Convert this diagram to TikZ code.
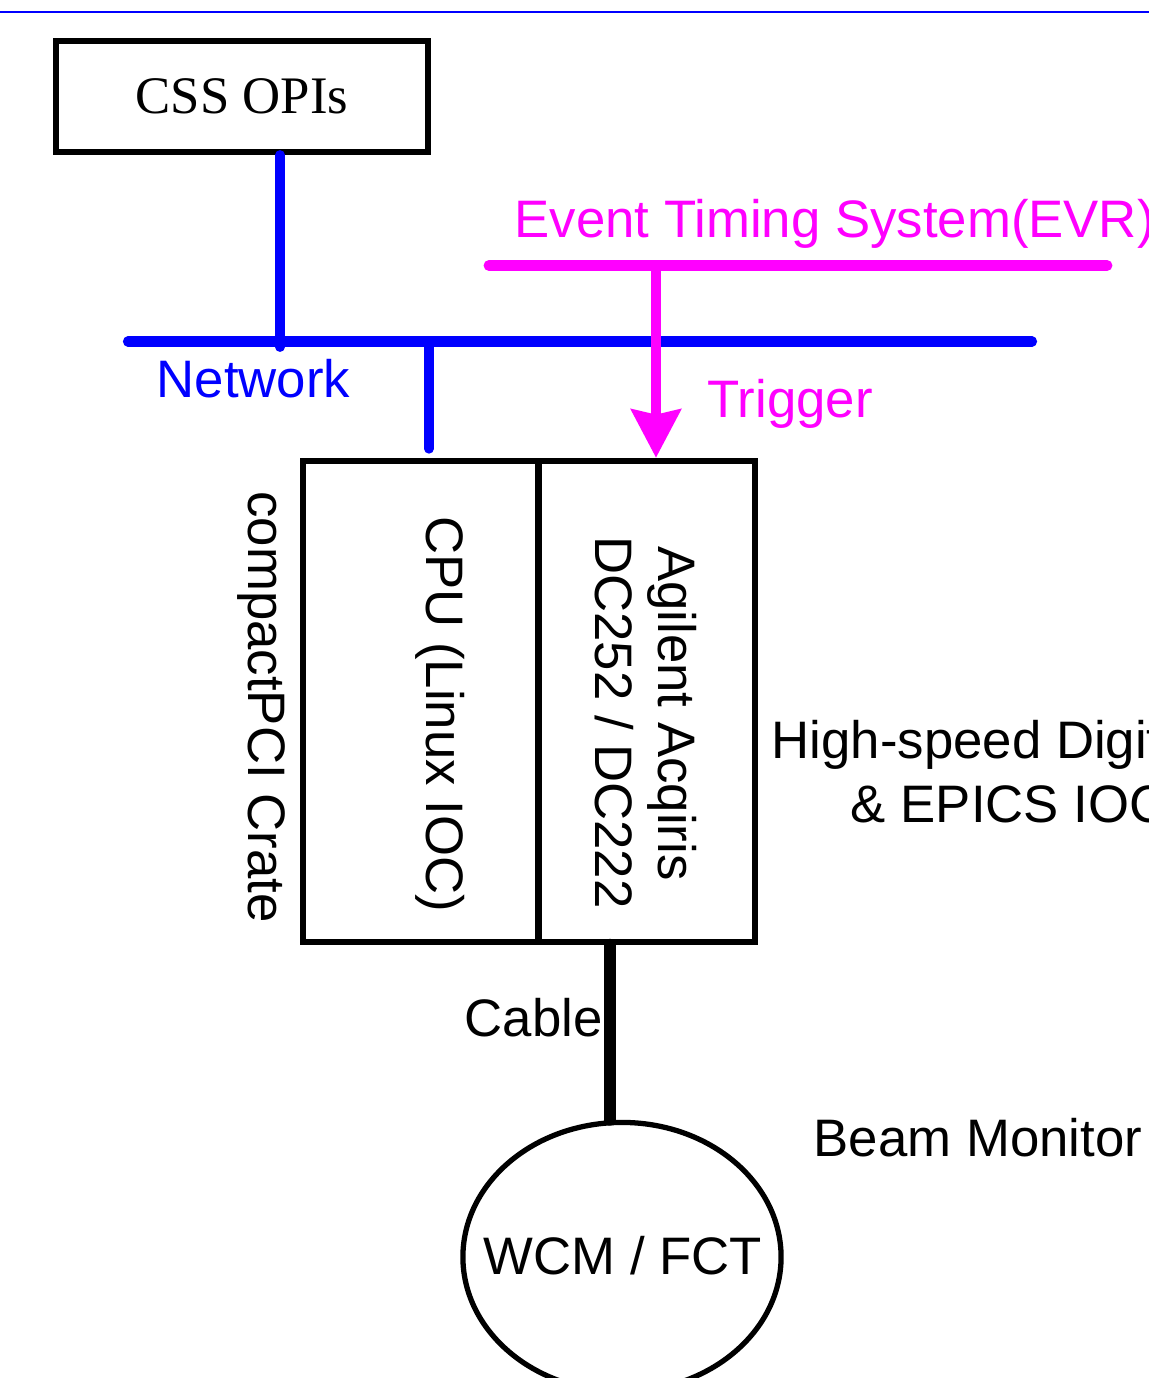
\documentclass[tikz,border=0pt]{standalone}
\usepackage{fontspec}
\setmainfont{Liberation Serif}
\setsansfont{Liberation Sans}
\usetikzlibrary{arrows.meta,positioning,calc,shapes.geometric}
\definecolor{evrpink}{RGB}{255,0,255}
\definecolor{netblue}{RGB}{0,0,255}

\begin{document}
\begin{tikzpicture}[x=0.01cm, y=-0.01cm,
    netline/.style={netblue, line width=2.9pt, line cap=round},
    evrline/.style={evrpink, line width=3.1pt, line cap=round},
    boxline/.style={draw, line width=1.7pt, inner sep=0pt},
    lbl/.style={font=\sffamily\fontsize{15}{18.2}\selectfont, inner sep=0pt}]

    % Page frame
    \useasboundingbox (0,0) rectangle (1149,1378);
    \clip (0,0) rectangle (1149,1378);

    % Rule at the top
    \draw[netblue, line width=0.6pt] (0,12) -- (1149,12);

    % Operator interfaces
    \node[boxline, font=\fontsize{15}{18}\selectfont, minimum width=3.72cm, minimum height=1.11cm] (css) at (242,96.5) {CSS OPIs};

    % compactPCI crate with its two boards
    \node[boxline, minimum width=2.355cm, minimum height=4.805cm] (cpubox) at (420.75,701.25) {};
    \node[boxline, minimum width=2.165cm, minimum height=4.805cm] (adcbox) at (646.75,701.25) {};

    % Network bus
    \coordinate (netW) at (128,341.5);
    \coordinate (netE) at (1032,341.5);
    \draw[netline] (netW) -- (netE);
    \node[lbl, netblue, anchor=base west] (netlabel) at (156,397) {Network};

    % Taps on the network
    \coordinate (tapcss) at (280,347);
    \coordinate (tapcpu) at (429,341.5);
    \draw[netline, line width=2.8pt] (css.south -| tapcss) -- (tapcss);
    \draw[netline, line width=2.8pt, shorten >=2.6pt] (tapcpu) -- (tapcpu |- cpubox.north);

    % Timing bus and trigger
    \coordinate (evrW) at (489,265.5);
    \coordinate (evrE) at (1107,265.5);
    \draw[evrline] (evrW) -- (evrE);
    \node[lbl, evrpink, anchor=base west] (evrlabel) at (514,237) {Event Timing System(EVR)};
    \coordinate (evrtap) at (656,265.5);
    \draw[evrline, line cap=butt, -{Stealth[length=13.7pt, width=13.9pt, inset=1.4pt]}] (evrtap) -- (evrtap |- adcbox.north);
    \node[lbl, evrpink, anchor=base west] (triglabel) at (707,417) {Trigger};

    % Crate labels
    \node[lbl, rotate=-90, anchor=base] (cratelabel) at (248,707) {compactPCI Crate};
    \node[lbl, rotate=-90, anchor=base] (cpulabel) at (426,714) {CPU (Linux IOC)};
    \node[lbl, rotate=-90, anchor=base] (adclabel) at (658,713.5) {Agilent Acqiris};
    \node[lbl, rotate=-90, anchor=base] (modellabel) at (595,722.5) {DC252 / DC222};
    \node[lbl, align=center, anchor=base west] (hsdlabel) at (771,822) {High-speed Digitizer\\\& EPICS IOC};

    % Beam monitor
    \node[ellipse, draw, line width=1.5pt, minimum width=3.18cm, minimum height=2.69cm, inner sep=0pt] (wcm) at (622,1257) {};
    \node[lbl, anchor=base] (wcmlabel) at (623,1274) {WCM / FCT};
    \node[lbl, anchor=base west] (beamlabel) at (813,1156) {Beam Monitor};

    % Cable
    \coordinate (cablex) at (610,0);
    \draw[line width=3.3pt, line cap=round] (adcbox.south -| cablex) -- (wcm.north -| cablex);
    \node[lbl, anchor=base west] (cablelabel) at (464,1036) {Cable};
\end{tikzpicture}
\end{document}
